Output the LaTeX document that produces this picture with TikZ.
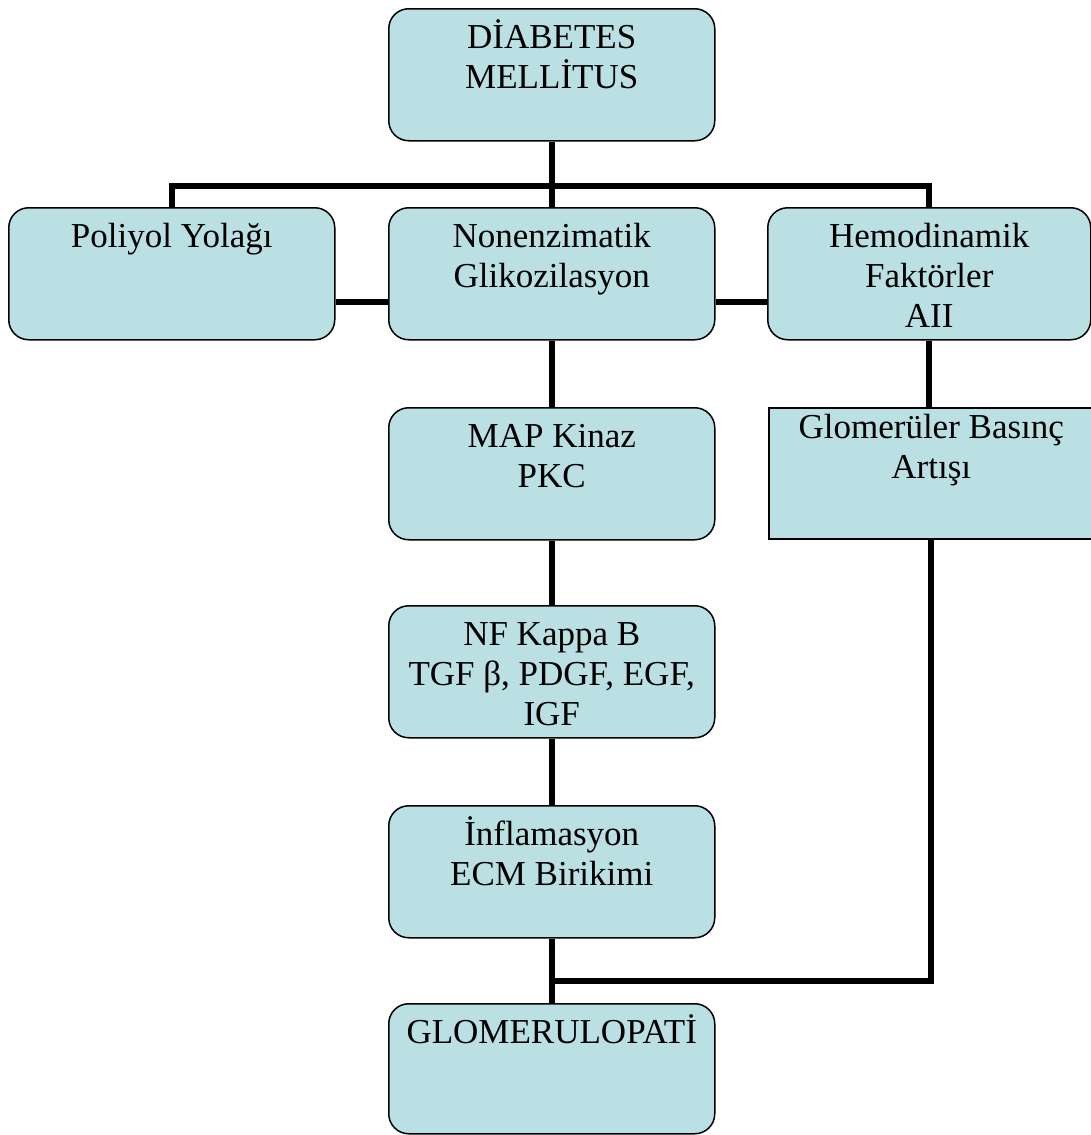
\documentclass[tikz,border=0pt]{standalone}
\usepackage{fontspec}
\setmainfont{Liberation Serif}
\usetikzlibrary{backgrounds}
\definecolor{boxfill}{RGB}{186,224,227}
\begin{document}
\begin{tikzpicture}[x=1pt,y=-1pt,
  box/.style={draw=black, line width=1.5pt, fill=boxfill, rounded corners=20pt,
    minimum width=326pt, minimum height=132pt, inner sep=0pt, anchor=north west},
  sqbox/.style={box, rounded corners=0pt},
  txt/.style={font=\fontsize{35}{40}\selectfont, align=center, inner sep=0pt, anchor=north},
  link/.style={line width=6pt}]
\useasboundingbox (0,0) rectangle (1091,1135);

% boxes
\node[box] (dm) at (388,8) {};
\node[box] (poli) at (8,207) {};
\node[box] (nonenz) at (388,207) {};
\node[box, minimum width=323pt] (hemo) at (767,207) {};
\node[box] (mapk) at (388,407) {};
\node[sqbox, minimum width=325pt, minimum height=131pt] (glob) at (768,407) {};
\node[box] (nfk) at (388,605) {};
\node[box] (infl) at (388,805) {};
\node[box, minimum height=130pt] (glom) at (388,1003) {};

% labels, set from the top of each box
\node[txt] (dmt) at ([yshift=-8pt]dm.north) {\rule{0pt}{32pt}DİABETES\\MELLİTUS};
\node[txt] (polit) at ([yshift=-8pt]poli.north) {\rule{0pt}{32pt}Poliyol Yolağı};
\node[txt] (nonenzt) at ([yshift=-8pt]nonenz.north) {\rule{0pt}{32pt}Nonenzimatik\\Glikozilasyon};
\node[txt] (hemot) at ([yshift=-8pt]hemo.north) {\rule{0pt}{32pt}Hemodinamik\\Faktörler\\AII};
\node[txt] (mapkt) at ([yshift=-8pt]mapk.north) {\rule{0pt}{32pt}MAP Kinaz\\PKC};
\node[txt] (globt) at ([yshift=1pt]glob.north) {\rule{0pt}{32pt}Glomerüler Basınç\\Artışı};
\node[txt] (nfkt) at ([yshift=-8pt]nfk.north) {\rule{0pt}{32pt}NF Kappa B\\TGF β, PDGF, EGF,\\IGF};
\node[txt] (inflt) at ([yshift=-8pt]infl.north) {\rule{0pt}{32pt}İnflamasyon\\ECM Birikimi};
\node[txt] (glomt) at ([yshift=-8pt]glom.north) {\rule{0pt}{32pt}GLOMERULOPATİ};

\coordinate (split) at (551,186);
\coordinate (join) at (551,981);

% connectors behind the boxes
\begin{scope}[on background layer]
  \fill[white] (0,0) rectangle (1091,1135);
  \draw[link] (poli.north) |- (split) -| (hemo.north);
  \draw[link] (dm.south) -- (nonenz.north);
  \draw[link] ([yshift=-28pt]poli.east) -- ([yshift=-28pt]nonenz.west);
  \draw[link] ([yshift=-28pt]nonenz.east) -- ([yshift=-28pt]hemo.west);
  \draw[link] (nonenz.south) -- (mapk.north);
  \draw[link] (mapk.south) -- (nfk.north);
  \draw[link] (nfk.south) -- (infl.north);
  \draw[link] (infl.south) -- (glom.north);
  \draw[link] (hemo.south) -- (hemo.south |- glob.north);
  \draw[link] (glob.south) |- (join);
\end{scope}
\end{tikzpicture}
\end{document}
